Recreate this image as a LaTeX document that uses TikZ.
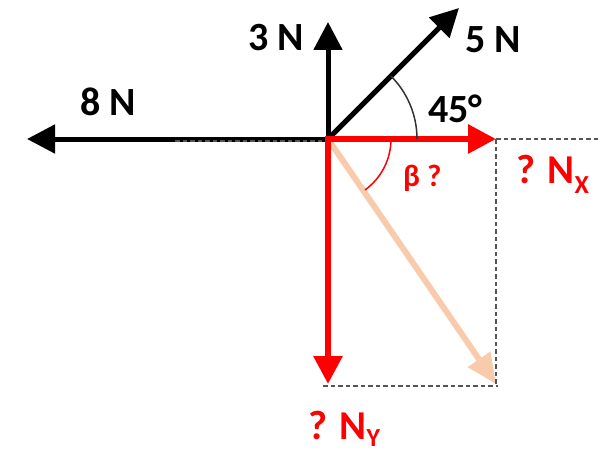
\documentclass[tikz,border=0pt]{standalone}
\usepackage{fontspec}
\setmainfont{Carlito}
\usetikzlibrary{arrows.meta}
\definecolor{vred}{HTML}{FF0000}
\definecolor{peach}{HTML}{F8CBAD}
\definecolor{dgray}{HTML}{555555}
\tikzset{
  force/.style={line width=5pt, -{Triangle[length=28pt,width=28pt]}},
  redforce/.style={line width=6pt, vred, -{Triangle[length=28pt,width=28pt]}},
  resforce/.style={line width=6pt, peach, -{Triangle[length=30pt,width=26pt]}},
  guide/.style={dgray, line width=1.3pt, dash pattern=on 4.5pt off 3pt},
  blab/.style={inner sep=0pt, anchor=base west, font=\fontsize{40}{44}\selectfont\bfseries},
  rlab/.style={inner sep=0pt, anchor=base west, text=vred, font=\fontsize{41}{44}\selectfont\bfseries},
  slab/.style={inner sep=0pt, anchor=base west, text=vred, font=\fontsize{31}{34}\selectfont\bfseries},
}
\begin{document}
\begin{tikzpicture}[x=1pt,y=-1pt]
\useasboundingbox (0,0) rectangle (605,452);
\coordinate (O) at (328,139);
\coordinate (tipL) at (27,139);
\coordinate (tipU) at (328,22);
\coordinate (tipD) at (459,8);
\coordinate (tipX) at (496,139);
\coordinate (tipY) at (328,384);
\coordinate (tipR) at (496,384);
\coordinate (gL) at (175,141);
\coordinate (gO) at (328,141);
\coordinate (gR) at (600,139);
\coordinate (gB1) at (323,386);
\coordinate (gB2) at (498,386);
\coordinate (gV) at (496,386);
% resultant
\draw[resforce, shorten <=2pt] (O) -- (tipR);
% black forces
\draw[force] (O) -- (tipL);
\draw[force] (O) -- (tipU);
\draw[force] ([shift={(-1,1)}]O) -- (tipD);
% guides
\draw[guide] (gL) -- (gO);
\draw[guide] (tipX) -- (gR);
\draw[guide] (tipX) -- (gV);
\draw[guide] (gB1) -- (gB2);
% red components
\draw[redforce] ([xshift=-3pt]O) -- (tipX);
\draw[redforce] ([yshift=-3pt]O) -- (tipY);
% angles
\draw[line width=1.5pt, black!80] ([xshift=89pt]O) arc[start angle=0, end angle=45, radius=89pt];
\draw[line width=1.5pt, vred] ([xshift=63pt]O) arc[start angle=0, end angle=-54, radius=63pt];
% labels
\node[blab] (l3) at (248,51) {3 N};
\node[blab] (l5) at (465,53) {5 N};
\node[blab] (l8) at (80,115) {8 N};
\node[blab] (l45) at (428,122) {45°};
\node[slab] (lb) at (403,186) {β ?};
\node[rlab] (lx) at (516,183) {? N\raisebox{-0.25em}{\fontsize{26}{26}\selectfont X}};
\node[rlab] (ly) at (308,439) {? N\raisebox{-0.18em}{\fontsize{26}{26}\selectfont Y}};
\end{tikzpicture}
\end{document}
